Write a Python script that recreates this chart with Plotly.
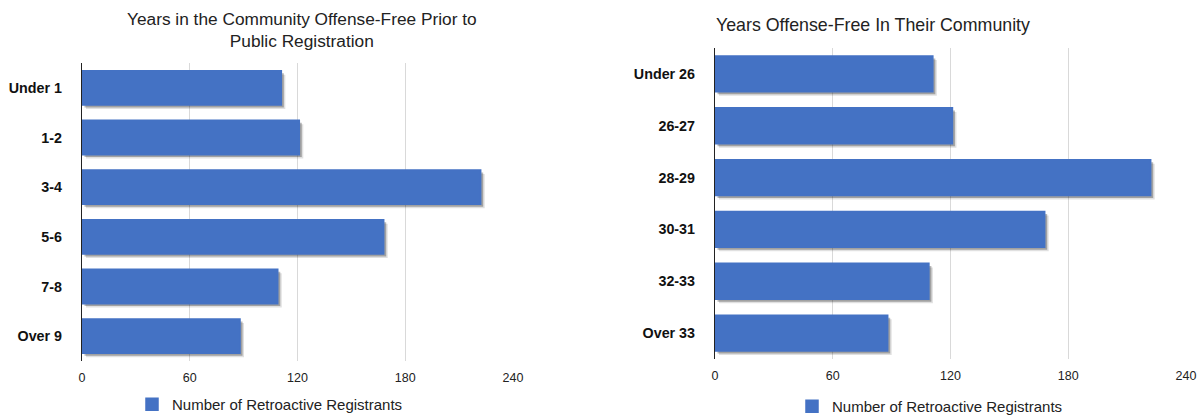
import plotly.graph_objects as go

# Registrant counts by years offense-free
left_categories = ["Under 1", "1-2", "3-4", "5-6", "7-8", "Over 9"]
right_categories = ["Under 26", "26-27", "28-29", "30-31", "32-33", "Over 33"]
registrants = [111, 121, 222, 168, 109, 88]
x_ticks = [0, 60, 120, 180, 240]
series_name = "Number of Retroactive Registrants"
left_title = "Years in the Community Offense-Free Prior to<br>Public Registration"
right_title = "Years Offense-Free In Their Community"

W, H = 1198, 415
BAR_BLUE = "#4472C4"
FONT = "Liberation Sans, Arial, Helvetica, sans-serif"
BAR_WIDTH = 0.69


def px_x(v):
    return v / W


def px_y(v):
    return 1 - v / H


fig = go.Figure()


def add_panel(cats, xa, ya, legend, unit_px, cat_px):
    # soft drop shadow: two translucent layers offset right/down
    for d_px, alpha in ((4, 0.12), (2.5, 0.28)):
        dx = d_px / unit_px
        fig.add_trace(go.Bar(
            y=cats, x=registrants, base=dx, orientation="h",
            width=BAR_WIDTH, offset=-BAR_WIDTH / 2 + d_px / cat_px,
            marker=dict(color=f"rgba(0,0,0,{alpha})", line=dict(width=0)),
            xaxis=xa, yaxis=ya, showlegend=False, hoverinfo="skip",
        ))
    fig.add_trace(go.Bar(
        y=cats, x=registrants, orientation="h", name=series_name,
        width=BAR_WIDTH, offset=-BAR_WIDTH / 2,
        marker=dict(color=BAR_BLUE, line=dict(width=1.5, color=BAR_BLUE)),
        xaxis=xa, yaxis=ya, legend=legend,
    ))


add_panel(left_categories, "x", "y", "legend", (513 - 82) / 240, 50.0)
add_panel(right_categories, "x2", "y2", "legend2", (1186 - 715) / 240, 51.5)

xaxis_common = dict(
    range=[0, 240], tickvals=x_ticks, showgrid=True, gridcolor="#d9d9d9",
    gridwidth=1, zeroline=False, showline=False, ticks="",
    tickfont=dict(family=FONT, size=12.5, color="#222"), ticklabelstandoff=7,
    fixedrange=True,
)
yaxis_common = dict(
    type="category", autorange="reversed", showgrid=False, zeroline=False,
    showline=True, linecolor="#222", linewidth=1.2, ticks="",
    tickfont=dict(family=FONT, size=14.3, color="#111", weight="bold"),
    ticklabelstandoff=16, fixedrange=True,
)
legend_common = dict(
    xanchor="left", yanchor="middle", bgcolor="rgba(0,0,0,0)",
    font=dict(family=FONT, size=15, color="#222"),
)

fig.update_layout(
    width=W, height=H,
    margin=dict(l=0, r=0, t=0, b=0, autoexpand=False),
    paper_bgcolor="white", plot_bgcolor="white",
    barmode="overlay",
    font=dict(family=FONT, color="#222"),
    xaxis=dict(domain=[px_x(82), px_x(513)], anchor="y", **xaxis_common),
    yaxis=dict(domain=[px_y(361), px_y(63)], anchor="x", **yaxis_common),
    xaxis2=dict(domain=[px_x(715), px_x(1186)], anchor="y2", **xaxis_common),
    yaxis2=dict(domain=[px_y(359), px_y(48)], anchor="x2", **yaxis_common),
    legend=dict(x=px_x(132), y=px_y(404.5), **legend_common),
    legend2=dict(x=px_x(792), y=px_y(406.5), **legend_common),
    annotations=[
        dict(text=left_title, x=px_x(302), y=px_y(30), xref="paper", yref="paper",
             xanchor="center", yanchor="middle", showarrow=False, align="center",
             font=dict(family=FONT, size=17.3, color="#222")),
        dict(text=right_title, x=px_x(714), y=px_y(25), xref="paper", yref="paper",
             xanchor="left", yanchor="middle", showarrow=False,
             font=dict(family=FONT, size=17.8, color="#222")),
    ],
)

fig.write_html("out.html")
